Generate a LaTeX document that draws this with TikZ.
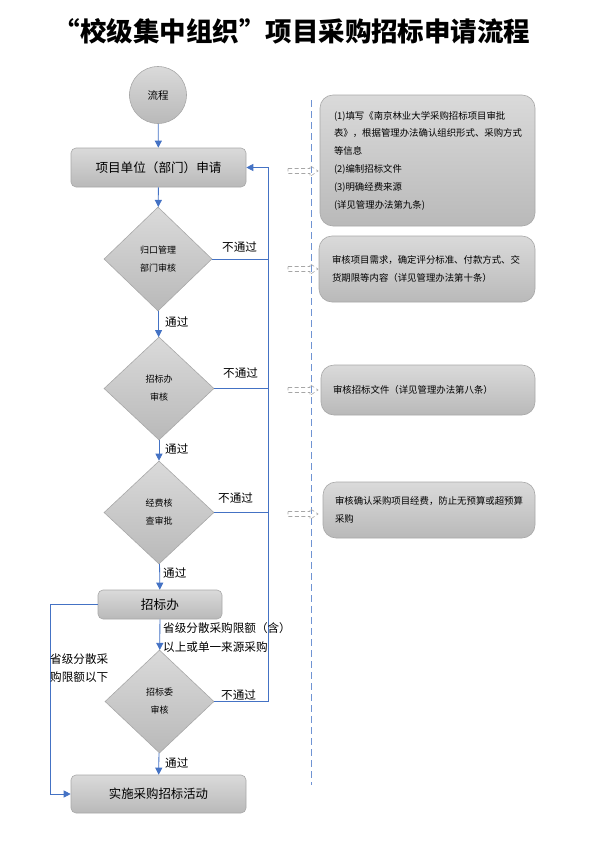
\documentclass[tikz,border=0pt]{standalone}
\usepackage{fontspec}
\newfontfamily\cjk{Noto Sans CJK SC}
\usetikzlibrary{shapes.geometric,arrows.meta,calc}
\definecolor{lnblue}{HTML}{4472C4}
\definecolor{sepblue}{HTML}{6F93D3}
\definecolor{shtop}{HTML}{DADADA}
\definecolor{shbot}{HTML}{B9B9B9}
\definecolor{bord}{HTML}{A8A8A8}
\begin{document}
\begin{tikzpicture}[x=1pt,y=-1pt,
 every node/.style={font=\cjk},
 shadebox/.style={draw=bord, top color=shtop, bottom color=shbot, line width=0.6pt},
 procbox/.style={shadebox, rectangle, rounded corners=5pt, inner sep=0pt},
 notebox/.style={shadebox, rectangle, rounded corners=13pt, inner sep=0pt, align=left, font=\cjk\fontsize{9.4}{17.8}\selectfont},
 decision/.style={shadebox, diamond, inner sep=0pt, aspect=1, align=center, font=\cjk\fontsize{9}{18}\selectfont},
 flow/.style={draw=lnblue, line width=0.8pt},
 flowarr/.style={flow, -{Triangle[length=7pt,width=7pt]}},
 lbl/.style={font=\cjk\fontsize{11.6}{18.5}\selectfont, inner sep=0pt, anchor=west, align=left},
 hint/.style={draw=gray!70, dash pattern=on 4pt off 2.5pt, line width=0.6pt},
 sepline/.style={draw=sepblue, dash pattern=on 7pt off 4pt, line width=0.8pt}
]
\useasboundingbox (0,0) rectangle (590,841);

% title
\node[font=\cjk\bfseries\fontsize{26.5}{30}\selectfont] (title) at (292,31) {“校级集中组织”项目采购招标申请流程};

% main flow
\node[shadebox, circle, minimum size=57pt, inner sep=0pt, font=\cjk\fontsize{10.5}{12}\selectfont] (start) at (158,95) {流程};
\node[procbox, minimum width=175pt, minimum height=39pt, font=\cjk\fontsize{12.6}{14}\selectfont] (apply) at (158.5,167.5) {项目单位（部门）申请};
\node[decision, minimum width=108pt, minimum height=104pt] (d1) at (158,259) {归口管理\\部门审核};
\node[decision, minimum width=110pt, minimum height=103pt] (d2) at (159,388.5) {招标办\\审核};
\node[decision, minimum width=110pt, minimum height=103pt] (d3) at (159,512.5) {经费核\\查审批};
\node[procbox, minimum width=124pt, minimum height=29pt, font=\cjk\fontsize{12.7}{14}\selectfont] (office) at (160,604.5) {招标办};
\node[decision, minimum width=109pt, minimum height=103pt] (d4) at (159.5,701.5) {招标委\\审核};
\node[procbox, minimum width=175pt, minimum height=38pt, font=\cjk\fontsize{12.4}{14}\selectfont] (impl) at (158.5,794) {实施采购招标活动};

% note boxes
\node[notebox, minimum width=215pt, minimum height=131pt, text width=187pt] (nA) at (427.5,160.5)
 {(1)填写《南京林业大学采购招标项目审批\\表》，根据管理办法确认组织形式、采购方式\\等信息\\(2)编制招标文件\\(3)明确经费来源\\(详见管理办法第九条)};
\node[notebox, minimum width=216pt, minimum height=66pt, text width=190pt] (nB) at (427,269)
 {审核项目需求，确定评分标准、付款方式、交\\货期限等内容（详见管理办法第十条）};
\node[notebox, minimum width=214pt, minimum height=50pt, text width=190pt] (nC) at (428,390)
 {审核招标文件（详见管理办法第八条）};
\node[notebox, minimum width=212pt, minimum height=56pt, text width=188pt] (nD) at (429,510)
 {审核确认采购项目经费，防止无预算或超预算\\采购};

% coordinates
\coordinate (fbtop) at (268,167.5);
\coordinate (fbbot) at (268,701.5);
\coordinate (lx) at (50,0);
\coordinate (septop) at (311,100);
\coordinate (sepbot) at (311,785);

% connectors
\draw[flowarr] (start) -- (apply);
\draw[flowarr] (apply) -- (d1);
\draw[flowarr] (d1) -- (d2);
\draw[flowarr] (d2) -- (d3);
\draw[flowarr] (d3) -- (office);
\draw[flowarr] (office) -- (d4);
\draw[flowarr] (d4) -- (impl);
\draw[flowarr] (d4.east) -- (fbbot) -- (fbtop) -- (apply.east);
\draw[flow] (d1.east) -- (d1.east -| fbtop);
\draw[flow] (d2.east) -- (d2.east -| fbtop);
\draw[flow] (d3.east) -- (d3.east -| fbtop);
\draw[flowarr] (office.west) -- (office.west -| lx) |- (impl.west);

% labels
\node[lbl] (n1) at (222,247) {不通过};
\node[lbl] (n2) at (223,373) {不通过};
\node[lbl] (n3) at (218,498) {不通过};
\node[lbl] (n4) at (221,695) {不通过};
\node[lbl] (p1) at (165,322) {通过};
\node[lbl] (p2) at (165,449) {通过};
\node[lbl] (p3) at (163,573) {通过};
\node[lbl] (p4) at (165,763) {通过};
\node[lbl] (up) at (163,637.5) {省级分散采购限额（含）\\以上或单一来源采购};
\node[lbl] (down) at (50,668) {省级分散采\\购限额以下};

% separator
\draw[sepline] (septop) -- (sepbot);

% hint arrows
\foreach \yy in {171,269,390,514}{
  \draw[hint] (288,\yy-2.5) -- (310,\yy-2.5) -- (310,\yy-5.5) -- (318,\yy) -- (310,\yy+5.5) -- (310,\yy+2.5) -- (288,\yy+2.5) -- cycle;
}
\end{tikzpicture}
\end{document}
